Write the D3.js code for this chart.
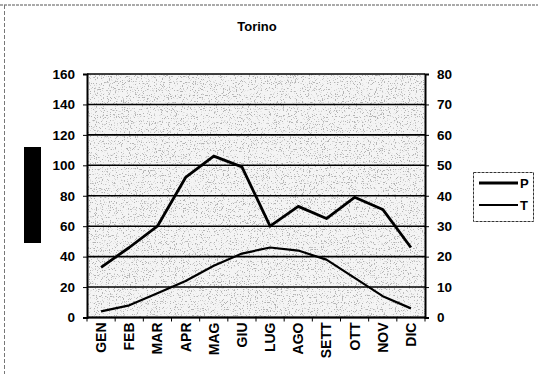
<!DOCTYPE html>
<html>
<head>
<meta charset="utf-8">
<script src="https://cdn.jsdelivr.net/npm/d3@7"></script>
<style>
  html, body { margin: 0; padding: 0; background: #fff; }
  svg { display: block; font-family: "Liberation Sans", Arial, sans-serif; }
</style>
</head>
<body>
<svg id="chart" width="538" height="374"></svg>
<script>
// Monthly climate for Torino: precipitation (mm, left axis) and temperature (°C, right axis)
const months = ["GEN", "FEB", "MAR", "APR", "MAG", "GIU", "LUG", "AGO", "SETT", "OTT", "NOV", "DIC"];
const precip = [33, 46, 60, 92, 106, 99, 60, 73, 65, 79, 71, 46];
const temp = [2, 4, 8, 12, 17, 21, 23, 22, 19, 13, 7, 3];
const leftTicks = [0, 20, 40, 60, 80, 100, 120, 140, 160];
const rightTicks = [0, 10, 20, 30, 40, 50, 60, 70, 80];
const seriesNames = ["P", "T"];

const svg = d3.select("#chart");
const W = 538, H = 374;
const plot = { left: 87, right: 425, top: 74, bottom: 317.5 };

// Outer frame (thin dotted edge on top and left)
svg.append("line").attr("x1", 0).attr("x2", W).attr("y1", 5).attr("y2", 5)
  .attr("stroke", "#555").attr("stroke-width", 1).attr("stroke-dasharray", "3,1");
svg.append("line").attr("x1", 4.5).attr("x2", 4.5).attr("y1", 5).attr("y2", H)
  .attr("stroke", "#777").attr("stroke-width", 1).attr("stroke-dasharray", "4,2");

// Title
svg.append("text").attr("x", 257).attr("y", 31).attr("text-anchor", "middle")
  .attr("font-size", 13).attr("font-weight", "bold").text("Torino");

// Scales
const x = d3.scaleBand().domain(months).range([plot.left, plot.right]);
const yL = d3.scaleLinear().domain([0, 160]).range([plot.bottom, plot.top]);
const yR = d3.scaleLinear().domain([0, 80]).range([plot.bottom, plot.top]);

// Plot area: near-white with a sparse grey grain
const defs = svg.append("defs");
const f = defs.append("filter").attr("id", "grain").attr("x", 0).attr("y", 0)
  .attr("width", 1).attr("height", 1);
f.append("feTurbulence").attr("type", "fractalNoise").attr("baseFrequency", 0.85)
  .attr("numOctaves", 2).attr("seed", 7).attr("result", "n");
f.append("feColorMatrix").attr("in", "n").attr("type", "matrix")
  .attr("values", "0 0 0 0 0.45  0 0 0 0 0.45  0 0 0 0 0.45  0 0 0 9 -5.3").attr("result", "dots");
f.append("feComposite").attr("in", "dots").attr("in2", "SourceGraphic").attr("operator", "over");

svg.append("rect").attr("x", plot.left).attr("y", plot.top)
  .attr("width", plot.right - plot.left).attr("height", plot.bottom - plot.top)
  .attr("fill", "#f4f4f4").attr("filter", "url(#grain)");

// Horizontal gridlines
svg.append("g").selectAll("line").data(leftTicks).join("line")
  .attr("x1", plot.left).attr("x2", plot.right)
  .attr("y1", d => yL(d)).attr("y2", d => yL(d))
  .attr("stroke", "#000").attr("stroke-width", 1.6);

// Left axis
const axL = svg.append("g").attr("transform", `translate(${plot.left},0)`)
  .call(d3.axisLeft(yL).tickValues(leftTicks).tickSize(4).tickPadding(8));
// Right axis
const axR = svg.append("g").attr("transform", `translate(${plot.right},0)`)
  .call(d3.axisRight(yR).tickValues(rightTicks).tickSize(4).tickPadding(8));
// Bottom axis with ticks between categories
const axB = svg.append("g").attr("transform", `translate(0,${plot.bottom})`)
  .call(d3.axisBottom(x).tickSize(0).tickPadding(5));
svg.append("g").selectAll("line").data(d3.range(months.length + 1)).join("line")
  .attr("x1", i => plot.left + i * x.step()).attr("x2", i => plot.left + i * x.step())
  .attr("y1", plot.bottom).attr("y2", plot.bottom + 4)
  .attr("stroke", "#000").attr("stroke-width", 1);

[axL, axR, axB].forEach(a => {
  a.select(".domain").attr("stroke", "#000").attr("stroke-width", 2);
  a.selectAll(".tick line").attr("stroke", "#000").attr("stroke-width", 1);
  a.selectAll("text").attr("font-family", "'Liberation Sans', Arial, sans-serif")
    .attr("font-size", 13.5).attr("font-weight", "bold").attr("fill", "#000");
});
axB.select(".domain").attr("d", `M${plot.left},0H${plot.right}`);
axB.selectAll(".tick text")
  .attr("transform", "rotate(-90)")
  .attr("text-anchor", "end").attr("dy", "0.36em")
  .attr("x", -5).attr("y", 0)
  .attr("font-size", 14);

// Lines
const lineP = d3.line().x((d, i) => x(months[i]) + x.bandwidth() / 2).y(d => yL(d));
const lineT = d3.line().x((d, i) => x(months[i]) + x.bandwidth() / 2).y(d => yR(d));
svg.append("path").datum(precip).attr("d", lineP)
  .attr("fill", "none").attr("stroke", "#000").attr("stroke-width", 2.8).attr("stroke-linejoin", "round");
svg.append("path").datum(temp).attr("d", lineT)
  .attr("fill", "none").attr("stroke", "#000").attr("stroke-width", 2.2).attr("stroke-linejoin", "round");

// Left axis title (blacked-out block)
svg.append("rect").attr("x", 24).attr("y", 147).attr("width", 17).attr("height", 96).attr("fill", "#000");

// Legend
const lg = svg.append("g").attr("transform", "translate(473,172)");
lg.append("rect").attr("x", 0.5).attr("y", 0.5).attr("width", 60).attr("height", 49)
  .attr("fill", "#fff").attr("stroke", "#333").attr("stroke-width", 1).attr("stroke-dasharray", "3,1");
seriesNames.forEach((name, i) => {
  const yy = 11 + i * 22;
  lg.append("line").attr("x1", 6).attr("x2", 45).attr("y1", yy).attr("y2", yy)
    .attr("stroke", "#000").attr("stroke-width", i === 0 ? 2.8 : 1.8);
  lg.append("text").attr("x", 47).attr("y", yy + 5).attr("font-size", 13).attr("font-weight", "bold").text(name);
});
</script>
</body>
</html>
